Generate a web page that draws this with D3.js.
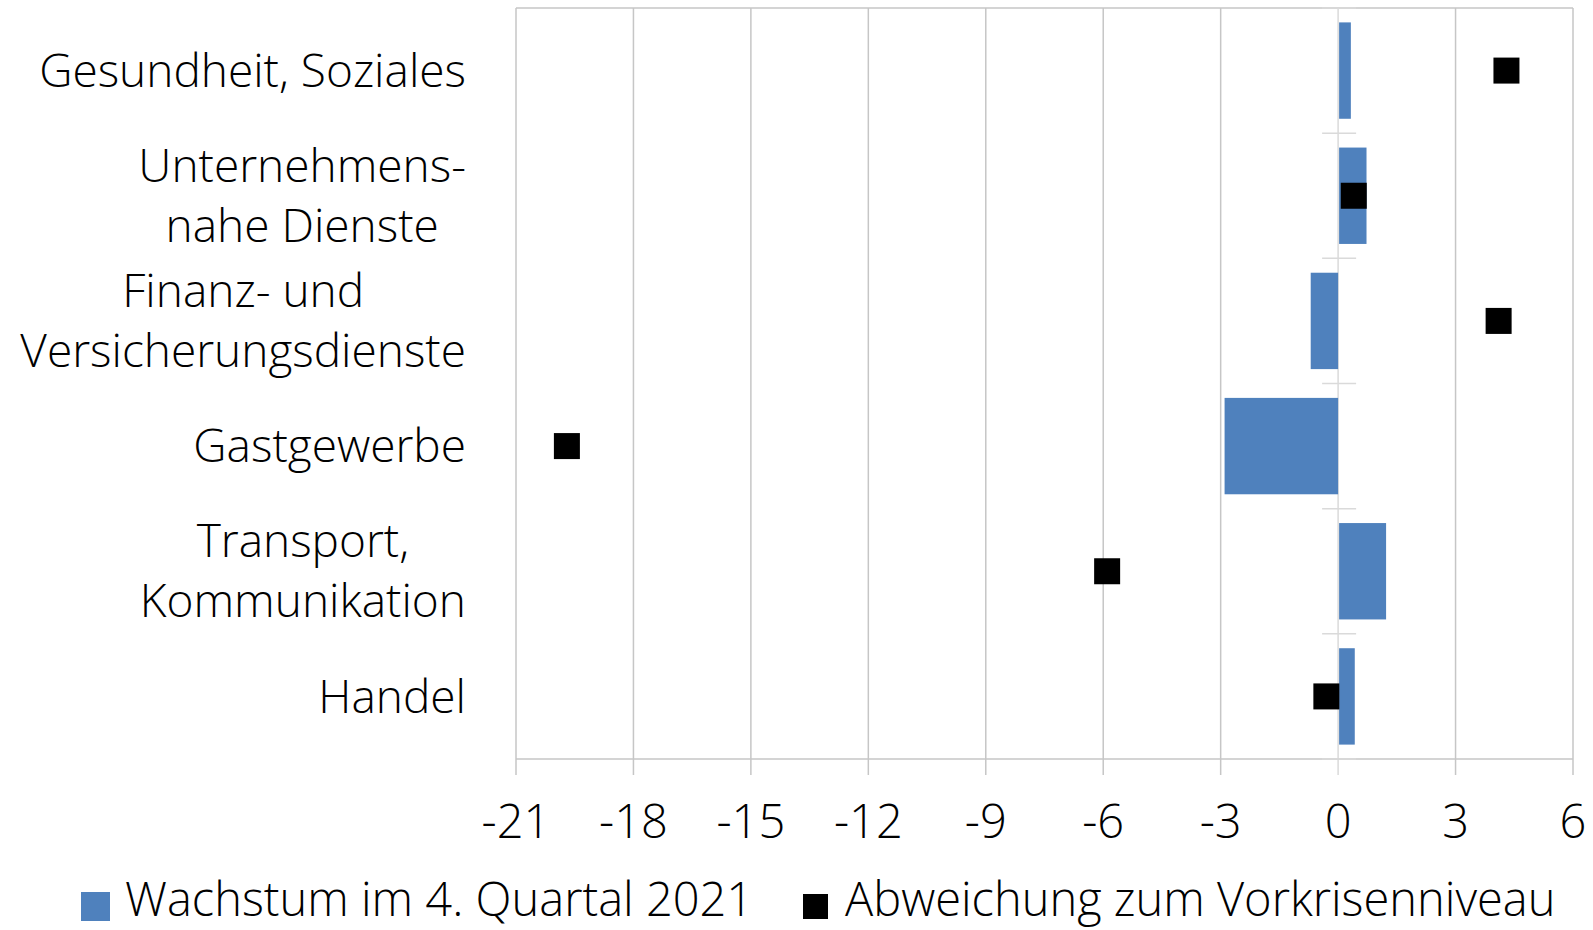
<!DOCTYPE html>
<html>
<head>
<meta charset="utf-8">
<script src="https://cdn.jsdelivr.net/npm/d3@7"></script>
<style>
  html, body { margin: 0; padding: 0; background: #fff; }
  svg { display: block; font-family: "Open Sans", sans-serif; font-weight: 300; }
</style>
</head>
<body>
<div id="chart"></div>
<script>
// categories top to bottom, each label split into its lines
const categories = [
    ["Gesundheit, Soziales"],
    ["Unternehmens-", "nahe Dienste"],
    ["Finanz- und", "Versicherungsdienste"],
    ["Gastgewerbe"],
    ["Transport,", "Kommunikation"],
    ["Handel"]
];
const growthQ4 = [0.3, 0.7, -0.7, -2.9, 1.2, 0.4];          // Wachstum im 4. Quartal 2021
const deviationPreCrisis = [4.3, 0.4, 4.1, -19.7, -5.9, -0.3]; // Abweichung zum Vorkrisenniveau
const xTicks = [-21, -18, -15, -12, -9, -6, -3, 0, 3, 6];
const legendLabels = ["Wachstum im 4. Quartal 2021", "Abweichung zum Vorkrisenniveau"];

const W = 1593, H = 930;
const margin = { top: 8, right: 20, bottom: 171, left: 516 };
const BLUE = "#4f81bd";
const MARKER = 26;

var svg = d3.select("#chart").append("svg")
    .attr("width", W)
    .attr("height", H);

var x = d3.scaleLinear()
    .domain([-21, 6])
    .range([margin.left, W - margin.right]);

var keys = categories.map((c, i) => i);
var y = d3.scaleBand()
    .domain(keys)
    .range([margin.top, H - margin.bottom])
    .paddingInner(0.23)
    .paddingOuter(0.115);

var yTop = margin.top, yBot = H - margin.bottom;

// plot border + vertical gridlines
svg.append("line")
    .attr("x1", x(-21)).attr("x2", x(6))
    .attr("y1", yTop).attr("y2", yTop)
    .attr("stroke", "#c6c6c6").attr("stroke-width", 1.5);

svg.append("g").selectAll("line")
    .data(xTicks)
    .enter().append("line")
    .attr("x1", d => x(d)).attr("x2", d => x(d))
    .attr("y1", yTop).attr("y2", yBot + 16)
    .attr("stroke", d => d === 0 ? "#dadada" : "#c6c6c6")
    .attr("stroke-width", 1.5);

// bottom value axis
svg.append("line")
    .attr("x1", x(-21)).attr("x2", x(6))
    .attr("y1", yBot).attr("y2", yBot)
    .attr("stroke", "#c6c6c6").attr("stroke-width", 1.5);

svg.append("g").selectAll("text")
    .data(xTicks)
    .enter().append("text")
    .attr("x", d => x(d))
    .attr("y", 838)
    .attr("text-anchor", "middle")
    .attr("font-size", 47)
    .attr("fill", "#000")
    .text(d => d);

// category axis tick marks at zero
var bounds = d3.range(categories.length + 1).map(i => yTop + i * (yBot - yTop) / categories.length);
svg.append("g").selectAll("line")
    .data(bounds)
    .enter().append("line")
    .attr("x1", x(0) - 16).attr("x2", x(0) + 18)
    .attr("y1", d => d).attr("y2", d => d)
    .attr("stroke", "#dadada").attr("stroke-width", 1.5);

// bars
svg.append("g").selectAll("rect")
    .data(growthQ4)
    .enter().append("rect")
    .attr("x", d => x(Math.min(0, d)) + (d > 0 ? 1 : 0))
    .attr("y", (d, i) => y(i))
    .attr("width", d => Math.abs(x(d) - x(0)))
    .attr("height", y.bandwidth())
    .attr("fill", BLUE);

// markers
svg.append("g").selectAll("rect")
    .data(deviationPreCrisis)
    .enter().append("rect")
    .attr("x", d => x(d) - MARKER / 2)
    .attr("y", (d, i) => y(i) + y.bandwidth() / 2 - MARKER / 2)
    .attr("width", MARKER)
    .attr("height", MARKER)
    .attr("fill", "#000");

// category labels
var LABEL_RIGHT = 466, LINE_H = 60;
var labels = svg.append("g")
    .attr("font-size", 46)
    .attr("fill", "#000");

categories.forEach((lines, i) => {
    var cy = y(i) + y.bandwidth() / 2;
    var g = labels.append("text")
        .attr("text-anchor", lines.length > 1 ? "middle" : "end");
    lines.forEach((ln, j) => {
        g.append("tspan")
            .attr("x", LABEL_RIGHT)
            .attr("y", cy + (j - (lines.length - 1) / 2) * LINE_H)
            .attr("dy", "0.35em")
            .text(ln);
    });
    if (lines.length > 1) {
        var w = g.node().getBBox().width;
        g.selectAll("tspan").attr("x", LABEL_RIGHT - w / 2);
    }
});

// legend
var legend = svg.append("g").attr("font-size", 47);
legend.append("rect")
    .attr("x", 81).attr("y", 892).attr("width", 29).attr("height", 29)
    .attr("fill", BLUE);
legend.append("text")
    .attr("x", 125).attr("y", 916)
    .text(legendLabels[0]);
legend.append("rect")
    .attr("x", 803).attr("y", 894).attr("width", 25).attr("height", 25)
    .attr("fill", "#000");
legend.append("text")
    .attr("x", 845).attr("y", 916)
    .text(legendLabels[1]);
</script>
</body>
</html>
